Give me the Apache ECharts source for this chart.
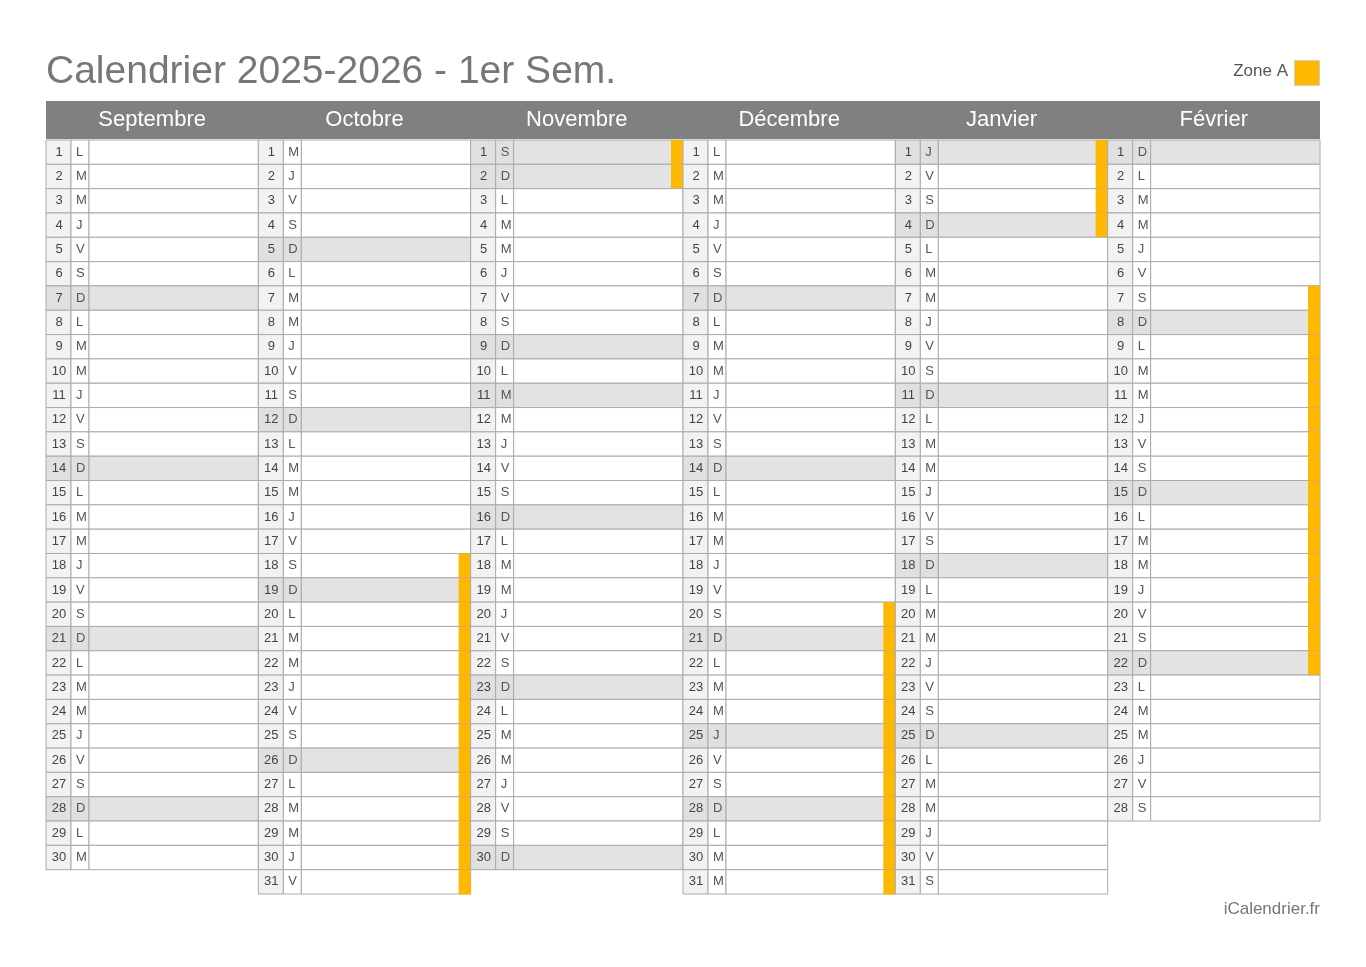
<!DOCTYPE html>
<html><head><meta charset="utf-8">
<script src="https://cdn.jsdelivr.net/npm/echarts@6/dist/echarts.min.js"></script>
<style>body{margin:0;background:#fff}#c{width:1366px;height:967px}</style>
</head><body><div id="c"></div>
<script>
var months = ["Septembre", "Octobre", "Novembre", "Décembre", "Janvier", "Février"];
var monthDays = [30, 31, 30, 31, 31, 28];
// weekday of the 1st, 0 = lundi
var firstWeekday = [0, 2, 5, 0, 3, 6];
var dayLetters = ["L", "M", "M", "J", "V", "S", "D"];
// holiday (Zone A) ranges: [month, fromDay, toDay]
var holidays = [[1, 18, 31], [2, 1, 2], [3, 20, 31], [4, 1, 4], [5, 7, 22]];
// public holidays shaded like sundays: [month, day]
var feries = [[2, 1], [2, 11], [3, 25], [4, 1]];

var cells = [];
months.forEach(function (m, mi) {
  for (var d = 1; d <= monthDays[mi]; d++) {
    var wd = (firstWeekday[mi] + d - 1) % 7;
    var grey = wd === 6 || feries.some(function (f) { return f[0] === mi && f[1] === d; }) ? 1 : 0;
    var hol = holidays.some(function (h) { return h[0] === mi && d >= h[1] && d <= h[2]; }) ? 1 : 0;
    cells.push([mi, d - 1, d, dayLetters[wd], grey, hol]);
  }
});

var chart = echarts.init(document.getElementById("c"));
var FONT = "Helvetica, 'Liberation Sans', Arial, sans-serif";
chart.setOption({
  animation: false,
  title: {
    text: "Calendrier 2025-2026 - 1er Sem.", left: 41, top: 48,
    textStyle: { color: "#777", fontSize: 39, fontWeight: "normal", fontFamily: FONT }
  },
  graphic: [
    { type: "text", right: 78, top: 63, style: { text: "Zone A", fill: "#555", font: "17px " + FONT } },
    { type: "rect", right: 46, top: 60, shape: { width: 25, height: 25 }, style: { fill: "#FFB800", stroke: "#ccc" } },
    { type: "text", right: 46, top: 901, style: { text: "iCalendrier.fr", fill: "#777", font: "17px " + FONT } },
    { type: "rect", left: 46, top: 101, shape: { width: 1274, height: 38 }, style: { fill: "#808080" } }
  ],
  grid: { left: 46, right: 46, top: 140, height: 754 },
  xAxis: { type: "value", min: 0, max: 6, show: false },
  yAxis: { type: "value", min: 0, max: 31, inverse: true, show: false },
  series: [{
    type: "custom",
    data: months.map(function (m, i) { return [i, m]; }),
    renderItem: function (params, api) {
      var p = api.coord([api.value(0), 0]);
      var w = api.size([1, 0])[0];
      return { type: "text", style: { text: months[api.value(0)], x: p[0] + w / 2, y: p[1] - 20, textAlign: "center", textVerticalAlign: "middle", fill: "#fff", font: "22px " + FONT } };
    }
  }, {
    type: "custom",
    data: cells,
    renderItem: function (params, api) {
      var mi = api.value(0), row = api.value(1);
      var p = api.coord([mi, row]);
      var sz = api.size([1, 1]);
      var w = sz[0], h = sz[1];
      var x = p[0], y = p[1];
      var grey = api.value(4), hol = api.value(5);
      var c = cells[params.dataIndex];
      var kids = [
        { type: "rect", shape: { x: x, y: y, width: 25, height: h }, style: { fill: grey ? "#e0e0e0" : "#f2f2f2", stroke: "#aaa", lineWidth: 1 } },
        { type: "rect", shape: { x: x + 25, y: y, width: 18, height: h }, style: { fill: grey ? "#e0e0e0" : "#fff", stroke: "#aaa", lineWidth: 1 } },
        { type: "rect", shape: { x: x + 43, y: y, width: w - 43, height: h }, style: { fill: grey ? "#e3e3e3" : "#fff", stroke: "#aaa", lineWidth: 1 } },
        { type: "text", style: { text: String(c[2]), x: x + 13, y: y + h / 2, textAlign: "center", textVerticalAlign: "middle", fill: "#444", font: "13px " + FONT } },
        { type: "text", style: { text: c[3], x: x + 30, y: y + h / 2, textAlign: "left", textVerticalAlign: "middle", fill: "#555", font: "13px " + FONT } }
      ];
      if (hol) kids.push({ type: "rect", shape: { x: x + w - 12, y: y, width: 12, height: h + 0.5 }, style: { fill: "#FFB800" } });
      return { type: "group", children: kids };
    }
  }]
});
</script></body></html>
